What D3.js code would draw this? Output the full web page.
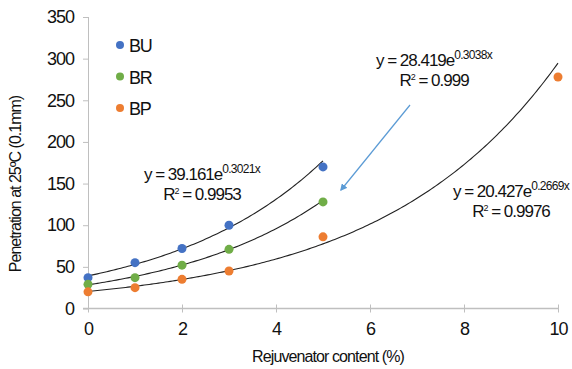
<!DOCTYPE html>
<html>
<head>
<meta charset="utf-8">
<script src="https://cdn.jsdelivr.net/npm/d3@7"></script>
<style>
body { margin: 0; background: #fff; }
text { font-family: "Liberation Sans", Arial, sans-serif; fill: #111; }
</style>
</head>
<body>
<svg id="chart" width="572" height="369"></svg>
<script>
var seriesNames = ["BU", "BR", "BP"];
var colors = ["#4472C4", "#70AD47", "#ED7D31"];
var xBU = [0, 1, 2, 3, 5];
var yBU = [37, 55, 72, 100, 170];
var xBR = [0, 1, 2, 3, 5];
var yBR = [29, 37, 52, 71, 128];
var xBP = [0, 1, 2, 3, 5, 10];
var yBP = [20, 25, 35, 45, 86, 278];
// trendline coefficients a*e^(b*x), end x
var fitA = [39.161, 28.419, 20.427];
var fitB = [0.3021, 0.3038, 0.2669];
var fitEnd = [5, 5, 10];
var fitR2 = ["0.9953", "0.999", "0.9976"];
var xTicks = [0, 2, 4, 6, 8, 10];
var yTicks = [0, 50, 100, 150, 200, 250, 300, 350];

var svg = d3.select("#chart");
var x = d3.scaleLinear().domain([0, 10]).range([88, 558]);
var y = d3.scaleLinear().domain([0, 350]).range([308.5, 17]);

var axisCol = "#bfbfbf";

// y axis
var yAxis = svg.append("g").attr("transform", "translate(88,0)")
    .call(d3.axisLeft(y).tickValues(yTicks).tickSize(5).tickPadding(9));
yAxis.select(".domain").attr("stroke", axisCol).attr("d", "M0.5," + y(350) + "V" + y(0));
yAxis.selectAll(".tick line").attr("stroke", axisCol);
yAxis.selectAll("text").style("font-size", "18px").attr("fill", "#111").style("letter-spacing", "-1px");

// x axis
var xAxis = svg.append("g").attr("transform", "translate(0," + y(0) + ")")
    .call(d3.axisBottom(x).tickValues(xTicks).tickSize(0).tickPadding(14));
xAxis.select(".domain").attr("stroke", axisCol).attr("stroke-width", 1.5).attr("d", "M83,0H" + x(10));
xAxis.selectAll(".tick line").attr("stroke", axisCol).attr("y1", -4).attr("y2", 4);
xAxis.selectAll("text").style("font-size", "18px").attr("fill", "#111").style("letter-spacing", "-1px");

// axis titles
svg.append("text").attr("transform", "translate(21,184) rotate(-90)")
    .attr("text-anchor", "middle").style("font-size", "16px").style("letter-spacing", "-1px")
    .text("Penetration at 25ºC (0.1mm)");
svg.append("text").attr("x", 328).attr("y", 362)
    .attr("text-anchor", "middle").style("font-size", "16px").style("letter-spacing", "-0.9px")
    .text("Rejuvenator content (%)");

// trendlines
var line = d3.line().x(function(d) { return x(d[0]); }).y(function(d) { return y(d[1]); });
for (var i = 0; i < 3; i++) {
    var pts = d3.range(0, fitEnd[i] + 0.001, 0.05).map(function(v) {
        return [v, fitA[i] * Math.exp(fitB[i] * v)];
    });
    svg.append("path").attr("d", line(pts)).attr("fill", "none")
        .attr("stroke", "#222").attr("stroke-width", 1.1);
}

// points
var allX = [xBU, xBR, xBP];
var allY = [yBU, yBR, yBP];
for (var s = 0; s < 3; s++) {
    svg.append("g").selectAll("circle").data(allX[s]).enter().append("circle")
        .attr("cx", function(d) { return x(d); })
        .attr("cy", function(d, j) { return y(allY[s][j]); })
        .attr("r", 4.5)
        .attr("fill", colors[s]);
}

// legend
seriesNames.forEach(function(n, k) {
    var ly = 45 + k * 31.5;
    svg.append("circle").attr("cx", 120).attr("cy", ly).attr("r", 4).attr("fill", colors[k]);
    svg.append("text").attr("x", 129).attr("y", ly + 7).style("font-size", "18px")
        .style("letter-spacing", "-1.2px").text(n);
});

// equation labels
function eqLabel(cx, cy, i) {
    var t = svg.append("text").attr("x", cx).attr("y", cy).attr("text-anchor", "middle")
        .style("font-size", "17px").style("letter-spacing", "-1px");
    t.append("tspan").text("y = " + fitA[i] + "e");
    t.append("tspan").attr("dy", -7).style("font-size", "12px").style("letter-spacing", "-0.7px").text(fitB[i] + "x");
    var r = svg.append("text").attr("x", cx).attr("y", cy + 20).attr("text-anchor", "middle")
        .style("font-size", "17px").style("letter-spacing", "-1px");
    r.append("tspan").text("R");
    r.append("tspan").attr("dy", -6).style("font-size", "9px").text("2");
    r.append("tspan").attr("dy", 6).text(" = " + fitR2[i]);
}
eqLabel(202, 180, 0);
eqLabel(434, 66, 1);
eqLabel(511, 197, 2);

// arrow
svg.append("defs").append("marker").attr("id", "ah")
    .attr("viewBox", "0 0 10 10").attr("refX", 8).attr("refY", 5)
    .attr("markerWidth", 6).attr("markerHeight", 6).attr("orient", "auto")
    .append("path").attr("d", "M0,0L10,5L0,10z").attr("fill", "#5B9BD5");
svg.append("line").attr("x1", 410).attr("y1", 105).attr("x2", 341).attr("y2", 190)
    .attr("stroke", "#5B9BD5").attr("stroke-width", 1.2).attr("marker-end", "url(#ah)");
</script>
</body>
</html>
